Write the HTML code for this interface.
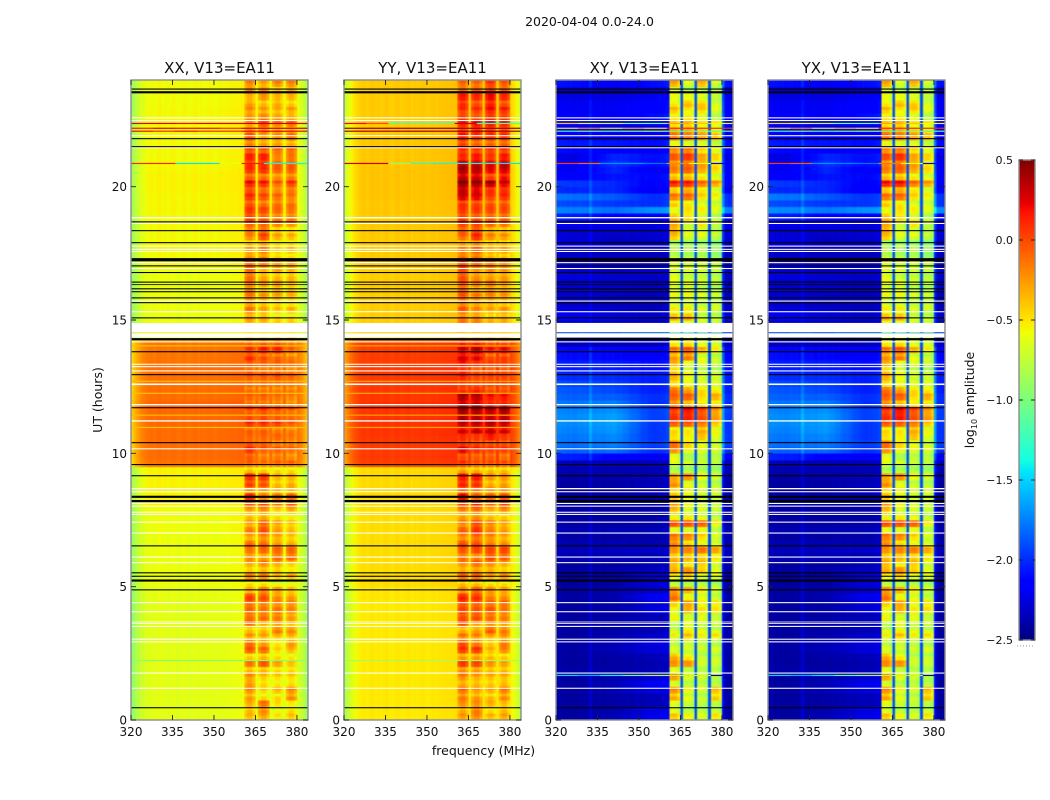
<!DOCTYPE html>
<html lang="en">
<head>
<meta charset="utf-8">
<title>2020-04-04 0.0-24.0</title>
<style>
html,body{margin:0;padding:0;background:#fff;}
svg{display:block;font-family:"DejaVu Sans","Liberation Sans",sans-serif;fill:#111;}
</style>
</head>
<body>
<svg id="figure" width="1050" height="800" viewBox="0 0 1050 800" xmlns="http://www.w3.org/2000/svg">
<rect x="0" y="0" width="1050" height="800" fill="#fff"/>
<text x="589.5" y="26" font-size="12.5" text-anchor="middle">2020-04-04 0.0-24.0</text>
<text x="483.5" y="755" font-size="12.5" text-anchor="middle">frequency (MHz)</text>
<text transform="translate(102,400) rotate(-90)" font-size="12.5" text-anchor="middle">UT (hours)</text>
<text transform="translate(974,400) rotate(-90)" font-size="12.5" text-anchor="middle">log<tspan font-size="8" dy="3">10</tspan><tspan dy="-3"> amplitude</tspan></text>
<g id="plots"></g>
<g id="colorbar"></g>
</svg>
<script>
const polarizations = ['XX', 'YY', 'XY', 'YX'];
const xTickLabels = [320, 335, 350, 365, 380];
const yTickLabels = [0, 5, 10, 15, 20];
const colorbarTicks = [0.5, 0, -0.5, -1, -1.5, -2, -2.5];
const bandStartChannels = [361, 366, 371, 376];
const gapChannels = [365, 370, 375];

/* flagged integrations, hours */
const whiteHours = [22.56,22.46,21.89,21.44,18.81,18.6,17.75,17.63,17.55,17.13,16.91,15.69,15.29,14.54,14.34,14.16,13.32,13.23,13.07,12.56,11.8,11.19,10.15,8.65,8.54,8.1,8.0,7.77,7.69,7.4,6.99,6.09,5.88,4.38,4.04,3.66,3.6,3.49,3.01,2.91,1.74,1.17];
const whiteSpans = [.04,.04,.04,.04,.05,.04,.04,.04,.04,.04,.04,.04,.04,.35,.16,.04,.04,.04,.04,.06,.05,.05,.04,.05,.04,.04,.04,.04,.04,.04,.04,.04,.04,.04,.04,.03,.03,.04,.04,.04,.04,.04];
const blackHours = [23.64,23.5,21.78,21.48,18.66,18.33,17.88,17.2,17.01,16.76,16.4,16.31,16.15,16.04,15.81,15.63,15.06,14.24,13.79,12.93,11.69,10.38,9.56,9.14,8.33,8.17,6.51,5.5,5.37,5.19,4.86,.44];
const blackSpans = [.04,.08,.04,.04,.04,.04,.04,.12,.04,.04,.04,.03,.04,.04,.04,.04,.04,.08,.04,.04,.04,.04,.04,.04,.08,.08,.04,.04,.04,.08,.04,.04];

/* single-integration interference rows: levels across 8 MHz segments, null = not visible */
const rfiHours = [20.87,22.37,22.19,22.08,1.67,2.23,14.03,12.7,12.25,11.43,10.97,14.5];
const rfiXX = [
 [.1,.1,-1.45,-1.45,-.6,.15,-1.4,-1.4],[.25,.25,.2,.25,.25,.3,.3,.25],[.15,.25,.2,.2,.1,.3,.3,.3],[.2,.1,.2,.1,.1,.2,.25,.2],
 null,[-.95,-.95,-.95,-.95,-.95,-.95,-.95,-.95],[-.38,-.38,-.38,-.38,-.38,-.38,-.38,-.38],[-.36,-.36,-.36,-.36,-.36,-.36,-.36,-.36],[-.38,-.38,-.38,-.38,-.38,-.38,-.38,-.38],[-.36,-.36,-.36,-.36,-.36,-.36,-.36,-.36],[-.38,-.38,-.38,-.38,-.38,-.38,-.38,-.38],[-.5,-.5,-.5,-.5,-.5,-.5,-.5,-.5]];
const rfiYY = [
 [.3,.3,-.9,-1.3,-1.4,-1.4,-1.4,-1.45],[.2,.0,-1.2,-1.2,-1.2,.3,-1.3,-1.2],[.42,.42,.42,.42,.42,.45,.45,.42],[.4,.4,.42,.42,.4,.42,.45,.4],
 null,[-.85,-.85,-.85,-.85,-.85,-.85,-.85,-.85],[-.3,-.3,-.3,-.3,-.3,-.3,-.3,-.3],[-.28,-.28,-.28,-.28,-.28,-.28,-.28,-.28],[-.3,-.3,-.3,-.3,-.3,-.3,-.3,-.3],[-.28,-.28,-.28,-.28,-.28,-.28,-.28,-.28],[-.3,-.3,-.3,-.3,-.3,-.3,-.3,-.3],[-.42,-.42,-.42,-.42,-.42,-.42,-.42,-.42]];
const rfiXY = [
 [.05,-.1,-1.7,-1.7,-1.8,-.2,-.6,-2.2],[-.4,-.6,-.7,-1,-1,-.3,-.4,-.6],[-.5,-.2,-.5,-.3,-.5,.1,.1,.1],[-1.2,-1,-1.1,-1,-.8,-1,-.9,-1.1],
 [-1.5,-1.6,-1.4,-1,-.8,-.8,-.8,-2.3],null,null,null,null,null,null,[-1.7,-1.6,-1.7,-1.6,-1.6,-1.6,-1.7,-1.8]];
const rfiYX = [
 [.05,-.05,-1.7,-1.75,-1.8,-.15,-.6,-2.2],[-.45,-.6,-.75,-1,-1,-.3,-.4,-.6],[-.45,-.2,-.5,-.35,-.5,.1,.1,.1],[-1.2,-1,-1.15,-1,-.85,-1,-.9,-1.1],
 [-1.5,-1.6,-1.45,-1.05,-.85,-.8,-.8,-2.3],null,null,null,null,null,null,[-1.75,-1.6,-1.7,-1.6,-1.6,-1.6,-1.7,-1.8]];

/* per-channel offsets 320..383 MHz */
const coChannelOffsets = [-.3,-.22,-.15,-.09,-.05,-.02,0,.01,-.01,.01,.02,0,.01,-.01,.01,.02,0,-.01,.01,.02,-.01,0,.01,.02,-.01,.01,0,.01,.02,.01,0,.01,.02,.01,.02,.02,.03,.03,.03,.04,.04,0,0,0,0,.02,0,0,0,0,.02,0,0,0,0,.02,0,0,0,0,-.02,-.07,-.15,-.24];
const crossChannelOffsets = [.02,.02,.01,.01,0,.01,-.01,0,.01,0,.01,-.01,.12,.01,0,.01,0,-.01,.01,0,.01,0,-.01,.01,0,.01,0,-.01,.01,.01,0,-.01,.01,0,.01,0,.01,.01,.02,.03,.06,0,0,0,0,0,0,0,0,0,0,0,0,0,0,0,0,0,0,0,.3,.02,0,0];
const coBandShape = [-.12,-.03,-.03,-.14];
const crossBandShape = [.08,.12,.1,-.02];
/* fine horizontal structure inside the sub-bands */
const bandRowRipple = [.08,-.1,.05,-.14,.1,-.06,.12,-.09,.03,-.12,.09,-.04,.14,-.11,.06,-.08,.02];

/* background level per 0.25 h row */
const xxBackground = [
 -.63,-.63,-.63,-.63,-.63,-.63,-.63,-.63,-.63,-.63,-.63,-.63,-.63,-.63,-.63,-.63,-.63,-.63,-.62,-.62,
 -.6,-.6,-.6,-.6,-.6,-.6,-.6,-.6,-.59,-.59,-.59,-.59,-.55,-.55,-.55,-.55,-.55,-.55,
 -.14,-.12,-.12,-.12,-.12,-.12,-.11,-.11,-.1,-.1,-.12,-.12,-.13,-.13,-.13,-.14,-.15,-.15,-.15,
 -.6,-.6,-.6,-.6,-.6,-.6,-.6,-.6,-.6,-.6,-.6,
 -.57,-.57,-.57,-.57,-.57,-.57,-.57,-.57,-.56,-.56,-.56,-.55,-.55,-.55,-.56,-.57,-.57,-.57,-.57,-.57,-.57,-.57,-.57,-.57,-.58,-.58,-.58,-.58];
const yyBackground = [
 -.52,-.52,-.52,-.52,-.52,-.52,-.52,-.52,-.52,-.52,-.52,-.52,-.52,-.52,-.52,-.52,-.52,-.52,-.51,-.51,
 -.48,-.48,-.48,-.48,-.48,-.48,-.48,-.48,-.48,-.48,-.48,-.48,-.47,-.47,-.47,-.47,-.47,-.47,
 .02,.04,.04,.04,.05,.06,.06,.06,.06,.06,.05,.05,.04,.04,.04,.03,.03,.02,.02,
 -.43,-.43,-.43,-.43,-.43,-.43,-.43,-.43,-.43,-.43,-.43,
 -.42,-.42,-.42,-.42,-.42,-.42,-.42,-.42,-.41,-.41,-.4,-.4,-.4,-.4,-.4,-.41,-.41,-.41,-.41,-.41,-.42,-.42,-.42,-.42,-.42,-.42,-.42,-.42];

/* cross-pol background: low / mid / high part of the band */
const xyBackground = [
 [-2.42,-2.36,-2.22],[-2.42,-2.38,-2.25],[-2.42,-2.4,-2.36],[-2.42,-2.4,-2.36],[-2.42,-2.36,-2.25],[-2.42,-2.36,-2.2],[-2.42,-2.38,-2.3],[-2.4,-2.4,-2.37],
 [-2.42,-2.41,-2.38],[-2.42,-2.4,-2.36],[-2.41,-2.36,-2.28],[-2.41,-2.36,-2.26],[-2.42,-2.38,-2.3],[-2.42,-2.4,-2.36],[-2.42,-2.41,-2.38],[-2.42,-2.4,-2.36],
 [-2.42,-2.39,-2.25],[-2.42,-2.4,-2.3],[-2.42,-2.38,-2.2],[-2.42,-2.4,-2.32],[-2.42,-2.41,-2.28],[-2.42,-2.4,-2.28],[-2.42,-2.4,-2.34],[-2.42,-2.41,-2.38],
 [-2.38,-2.36,-2.38],[-2.36,-2.34,-2.32],[-2.38,-2.36,-2.38],[-2.41,-2.41,-2.4],[-2.38,-2.36,-2.36],[-2.41,-2.41,-2.41],[-2.42,-2.42,-2.41],[-2.42,-2.42,-2.41],
 [-2.42,-2.41,-2.41],[-2.41,-2.38,-2.38],[-2.42,-2.4,-2.36],[-2.42,-2.4,-2.36],[-2.41,-2.38,-2.37],[-2.38,-2.38,-2.38],
 [-2.36,-2.36,-2.36],[-2.05,-2.15,-2.2],[-1.85,-1.8,-2.0],[-1.8,-1.75,-1.95],[-1.78,-1.72,-1.98],[-1.75,-1.68,-1.98],[-1.72,-1.65,-1.98],[-1.72,-1.65,-1.95],
 [-1.75,-1.7,-1.95],[-1.78,-1.75,-2.0],[-1.85,-1.85,-2.0],[-1.88,-1.92,-2.05],[-1.92,-1.95,-2.05],[-2.0,-2.0,-2.05],[-2.05,-2.05,-2.1],[-2.05,-2.05,-2.1],
 [-2.1,-2.12,-2.15],[-2.12,-2.12,-2.15],[-2.35,-2.35,-2.35],[-2.38,-2.38,-2.4],[-2.35,-2.35,-2.4],[-2.3,-2.33,-2.35],[-2.2,-2.25,-2.3],[-2.25,-2.3,-2.35],
 [-2.33,-2.35,-2.37],[-2.3,-2.33,-2.35],[-2.27,-2.3,-2.33],[-2.3,-2.3,-2.33],[-2.27,-2.3,-2.33],[-2.3,-2.33,-2.3],[-2.3,-2.35,-2.35],[-2.33,-2.35,-2.37],
 [-2.3,-2.35,-2.35],[-2.27,-2.35,-2.35],[-2.28,-2.33,-2.3],[-2.28,-2.28,-2.28],[-2.22,-2.22,-2.27],[-2.05,-2.15,-2.2],[-1.75,-1.8,-1.7],[-1.92,-1.97,-2.0],
 [-1.8,-1.87,-2.0],[-2.02,-2.02,-2.2],[-1.97,-2.02,-2.15],[-2.15,-2.07,-2.12],[-2.2,-2.02,-2.2],[-2.2,-1.97,-2.1],[-2.25,-2.02,-2.1],[-2.12,-2.2,-2.2],
 [-2.07,-2.07,-2.1],[-2.12,-2.2,-2.2],[-2.15,-2.2,-2.2],[-2.2,-2.25,-2.2],[-2.15,-2.2,-2.1],[-2.2,-2.2,-2.15],[-2.2,-2.2,-2.15],[-2.25,-2.25,-2.2],[-2.25,-2.3,-2.2],[-2.1,-2.2,-2.1]];
const yxBackground = [
 [-2.42,-2.36,-2.24],[-2.42,-2.38,-2.26],[-2.42,-2.4,-2.36],[-2.42,-2.4,-2.36],[-2.42,-2.36,-2.27],[-2.42,-2.36,-2.22],[-2.42,-2.38,-2.3],[-2.4,-2.4,-2.37],
 [-2.42,-2.41,-2.38],[-2.42,-2.4,-2.36],[-2.41,-2.36,-2.28],[-2.41,-2.36,-2.28],[-2.42,-2.38,-2.31],[-2.42,-2.4,-2.36],[-2.42,-2.41,-2.38],[-2.42,-2.4,-2.36],
 [-2.42,-2.39,-2.27],[-2.42,-2.4,-2.3],[-2.42,-2.38,-2.22],[-2.42,-2.4,-2.32],[-2.42,-2.41,-2.28],[-2.42,-2.4,-2.28],[-2.42,-2.4,-2.34],[-2.42,-2.41,-2.38],
 [-2.38,-2.36,-2.38],[-2.36,-2.34,-2.32],[-2.38,-2.36,-2.38],[-2.41,-2.41,-2.4],[-2.38,-2.36,-2.36],[-2.41,-2.41,-2.41],[-2.42,-2.42,-2.41],[-2.42,-2.42,-2.41],
 [-2.42,-2.41,-2.41],[-2.41,-2.38,-2.38],[-2.42,-2.4,-2.36],[-2.42,-2.4,-2.36],[-2.41,-2.38,-2.37],[-2.38,-2.38,-2.38],
 [-2.36,-2.36,-2.36],[-2.05,-2.15,-2.2],[-1.85,-1.82,-2.0],[-1.8,-1.77,-1.95],[-1.78,-1.72,-1.98],[-1.75,-1.68,-1.98],[-1.72,-1.66,-1.98],[-1.72,-1.66,-1.95],
 [-1.75,-1.7,-1.95],[-1.78,-1.75,-2.0],[-1.85,-1.85,-2.0],[-1.88,-1.92,-2.05],[-1.92,-1.95,-2.05],[-2.0,-2.0,-2.05],[-2.05,-2.05,-2.1],[-2.05,-2.05,-2.1],
 [-2.1,-2.12,-2.15],[-2.12,-2.12,-2.15],[-2.35,-2.35,-2.35],[-2.38,-2.38,-2.4],[-2.35,-2.35,-2.4],[-2.3,-2.33,-2.35],[-2.2,-2.25,-2.3],[-2.25,-2.3,-2.35],
 [-2.33,-2.35,-2.37],[-2.3,-2.33,-2.35],[-2.27,-2.3,-2.33],[-2.3,-2.3,-2.33],[-2.27,-2.3,-2.33],[-2.3,-2.33,-2.3],[-2.3,-2.35,-2.35],[-2.33,-2.35,-2.37],
 [-2.3,-2.35,-2.35],[-2.27,-2.35,-2.35],[-2.28,-2.33,-2.3],[-2.28,-2.28,-2.28],[-2.22,-2.22,-2.27],[-2.05,-2.15,-2.2],[-1.72,-1.78,-1.7],[-1.92,-1.97,-1.98],
 [-1.78,-1.87,-1.98],[-2.02,-2.02,-2.18],[-1.97,-2.02,-2.15],[-2.15,-2.07,-2.12],[-2.2,-2.02,-2.18],[-2.2,-1.97,-2.1],[-2.25,-2.02,-2.1],[-2.12,-2.2,-2.2],
 [-2.07,-2.07,-2.1],[-2.12,-2.2,-2.2],[-2.15,-2.2,-2.2],[-2.2,-2.25,-2.2],[-2.15,-2.2,-2.1],[-2.2,-2.2,-2.15],[-2.2,-2.2,-2.15],[-2.25,-2.25,-2.2],[-2.25,-2.3,-2.2],[-2.1,-2.2,-2.1]];
const crossGapLevel = -1.9;

/* the four active sub-bands, one row per 0.25 h from 0 h upward */
const xxBands = [
 [-.35,-.3,-.5,-.4],[-.3,-.15,-.5,-.4],[-.3,-.1,-.45,-.5],[-.2,-.4,-.4,-.15],
 [-.2,-.42,-.35,-.2],[-.2,-.4,-.45,-.4],[-.25,-.4,-.45,-.45],[-.3,-.3,-.4,-.4],
 [-.1,0,-.25,-.35],[-.35,-.3,-.4,-.45],[-.05,-.1,-.45,-.35],[-.05,-.2,-.45,-.2],
 [-.3,-.35,-.4,-.4],[-.3,-.3,-.1,-.15],[-.1,-.3,-.25,-.35],[-.05,-.05,-.1,-.2],
 [-.05,-.1,-.1,-.15],[-.1,-.15,-.2,-.2],[.1,.05,-.15,-.2],[-.3,-.15,-.25,-.35],
 [-.4,-.4,-.5,-.5],[-.2,-.2,-.4,-.35],[-.35,-.3,-.35,-.45],[-.3,-.2,-.3,-.4],
 [-.15,-.2,-.05,-.05],[-.1,-.05,-.05,-.05],[0,0,-.15,-.2],[-.3,-.2,-.3,-.4],
 [-.1,.05,-.2,-.3],[-.3,-.1,-.3,-.4],[-.3,-.25,-.4,-.45],[-.25,-.2,-.4,-.3],
 [0,.05,-.1,0],[.15,-.15,-.1,-.05],[-.2,-.25,-.35,-.35],[.1,.05,-.3,-.25],
 [.12,.1,-.3,-.3],[-.3,-.35,-.4,-.4],[-.1,-.15,-.12,-.12],[0,-.1,-.1,-.15],
 [.1,-.05,-.05,-.1],[.05,0,-.1,-.1],[-.05,-.05,-.05,-.1],[0,0,-.08,-.1],
 [.1,.1,.05,-.05],[.05,.05,0,-.05],[-.03,.02,-.05,-.1],[0,-.02,-.05,-.1],
 [-.05,-.05,-.1,-.15],[-.05,-.08,-.1,-.1],[-.05,-.05,-.08,-.1],[-.02,-.02,0,-.05],
 [0,-.05,-.05,-.1],[-.02,-.05,-.05,-.1],[.15,.05,-.02,-.1],[.05,.12,.1,-.1],
 [-.02,0,0,-.1],[-.3,-.3,-.3,-.3],[-.4,-.4,-.4,-.4],[-.3,-.35,-.4,-.4],
 [-.2,-.25,-.4,-.4],[-.15,-.3,-.4,-.35],[-.25,-.35,-.4,-.45],[-.2,-.3,-.35,-.4],
 [-.1,-.3,-.25,-.3],[-.15,-.25,-.25,-.35],[-.05,-.25,-.3,-.3],[-.05,-.3,-.25,-.3],
 [-.1,-.15,-.25,-.3],[-.15,-.15,-.35,-.4],[-.25,-.15,-.4,-.35],[-.3,-.25,-.4,-.4],
 [-.2,0,-.3,-.35],[-.1,-.05,-.35,-.4],[-.05,-.05,-.15,-.2],[.1,0,-.1,-.1],
 [.1,.05,-.05,-.1],[.05,-.05,-.05,-.05],[.1,0,-.1,-.15],[.05,-.05,-.15,-.1],
 [.15,.1,-.1,.02],[0,-.05,-.15,-.1],[.1,.1,-.05,-.05],[.15,.15,0,0],
 [.18,.18,-.15,-.1],[0,-.05,-.1,-.1],[-.1,-.2,-.2,-.25],[0,-.25,-.2,-.1],
 [-.1,-.1,-.2,-.2],[-.25,0,-.15,-.1],[-.15,-.1,-.2,-.25],[-.25,-.3,-.35,-.3],
 [-.2,-.3,-.25,-.35],[-.3,-.2,-.3,-.3],[-.1,-.1,-.3,-.2],[-.2,-.3,-.2,-.2]];
const yyBands = [
 [-.25,-.2,-.35,-.3],[-.25,-.1,-.4,-.3],[-.2,-.2,-.3,-.35],[-.1,-.2,-.3,-.15],
 [-.1,-.25,-.3,-.15],[-.25,-.3,-.35,-.3],[-.2,-.3,-.35,-.35],[-.15,-.2,-.3,-.3],
 [.1,.05,-.2,-.25],[-.2,-.2,-.3,-.35],[.05,.05,-.35,-.2],[.05,-.1,-.35,-.1],
 [-.2,-.25,-.35,-.3],[-.25,-.2,0,-.1],[0,-.25,-.2,-.25],[.05,.05,-.05,-.1],
 [.05,0,0,-.1],[0,-.05,-.1,-.1],[.2,.15,-.1,-.15],[-.2,-.05,-.2,-.25],
 [-.3,-.3,-.4,-.4],[-.1,-.1,-.3,-.25],[-.25,-.2,-.25,-.35],[-.2,-.1,-.2,-.3],
 [-.05,-.1,.05,0],[0,.05,.05,.05],[.1,.1,-.05,-.1],[-.2,-.1,-.2,-.3],
 [0,.15,-.1,-.2],[-.2,0,-.2,-.3],[-.2,-.15,-.3,-.35],[-.15,-.1,-.3,-.2],
 [.05,.15,-.05,.05],[.25,-.05,-.05,0],[-.1,-.15,-.25,-.25],[.2,.15,-.25,-.2],
 [.2,.2,-.2,-.2],[-.2,-.25,-.3,-.3],[.05,-.05,-.05,-.05],[.05,0,0,-.05],
 [.25,.1,.05,.05],[.15,.1,.05,.05],[.15,.1,.2,.1],[.35,.4,.4,.35],
 [.35,.35,.38,.33],[.45,.42,.38,.4],[.45,.42,.38,.42],[.42,.42,.25,.25],
 [.42,.38,.2,.2],[.15,.2,.05,.05],[.1,.05,.05,.05],[.15,.05,.05,.05],
 [.18,.05,.05,.05],[.2,.1,.05,.05],[.35,.3,.05,.1],[.28,.35,.15,.2],
 [.2,.2,.05,.05],[-.2,-.2,-.2,-.2],[-.2,-.2,-.3,-.3],[-.1,-.15,-.3,-.3],
 [-.1,-.15,-.3,-.25],[-.05,-.2,-.3,-.25],[-.15,-.25,-.3,-.35],[-.1,-.2,-.25,-.3],
 [0,-.2,-.15,-.2],[-.05,-.15,-.15,-.25],[.05,-.15,-.2,-.2],[.05,-.2,-.15,-.2],
 [0,-.05,-.15,-.2],[-.05,-.05,-.25,-.3],[-.15,-.05,-.3,-.25],[-.2,-.15,-.3,-.3],
 [-.1,.1,-.2,-.25],[0,.05,-.25,-.3],[.05,.05,-.05,-.1],[.1,.05,0,0],
 [.1,.1,.05,.05],[.15,.1,.05,.05],[.3,.25,.05,.1],[.38,.3,.15,.15],
 [.45,.4,.35,.25],[.4,.35,.1,.25],[.42,.38,.25,.3],[.42,.38,.32,.38],
 [.15,.2,.1,.2],[.1,.05,.05,.05],[.1,0,0,0],[.2,.1,.1,.1],
 [.15,.2,.15,.1],[.15,.2,.2,.15],[.1,.05,.15,.1],[.05,.05,.15,.1],
 [.15,.05,.2,.05],[.2,.15,.25,.15],[0,.05,.15,.05],[-.1,-.1,.05,-.05]];
const xyBands = [
 [-.55,-.7,-.8,-.65],[-.7,-.85,-.85,-.8],[-.75,-.85,-.9,-.9],[-.4,-.7,-.8,-.5],
 [-.35,-.7,-.8,-.5],[-.75,-.85,-.85,-.85],[-.4,-.75,-.8,-.9],[-.7,-.8,-.85,-.85],
 [-.35,-.35,-.8,-.8],[-.4,-.6,-.8,-.8],[-.8,-.85,-.85,-.8],[-.85,-.8,-.85,-.9],
 [-.75,-.6,-.75,-.7],[-.75,-.6,-.7,-.75],[-.9,-.75,-.85,-.85],[-.65,-.75,-.7,-.8],
 [-.7,-.45,-.6,-.6],[-.55,-.4,-.7,-.65],[-.2,-.65,-.7,-.8],[-.35,-.45,-.65,-.8],
 [-.8,-.85,-.85,-.9],[-.7,-.6,-.8,-.8],[-.4,-.3,-.5,-.7],[-.5,-.65,-.55,-.8],
 [-.45,-.45,-.5,-.6],[-.35,-.3,-.25,-.4],[-.25,-.5,-.6,-.7],[-.3,-.35,-.6,-.8],
 [-.7,-.75,-.7,-.85],[-.15,-.15,-.2,-.7],[-.65,-.6,-.7,-.8],[-.5,-.8,-.8,-.85],
 [-.35,-.65,-.75,-.8],[-.5,-.7,-.8,-.8],[-.6,-.7,-.8,-.8],[-.3,-.7,-.8,-.85],
 [-.4,-.35,-.7,-.8],[-.85,-.85,-.85,-.9],[-.8,-.85,-.9,-.95],[-.7,-.9,-.85,-.85],
 [-.35,-.7,-.75,-.8],[-.2,-.55,-.7,-.8],[-.6,-.65,-.5,-.75],[-.55,-.6,-.4,-.65],
 [-.2,-.2,-.3,-.55],[0,.05,-.1,-.35],[-.1,.05,-.15,-.4],[-.25,-.4,-.55,-.55],
 [-.2,-.2,-.6,-.45],[-.2,-.35,-.55,-.6],[-.6,-.7,-.75,-.75],[-.45,-.7,-.8,-.8],
 [-.5,-.7,-.8,-.85],[-.45,-.75,-.75,-.85],[-.35,-.25,-.7,-.8],[-.3,-.2,-.5,-.7],
 [-.6,-.55,-.7,-.75],[-.7,-.7,-.8,-.8],[-.7,-.8,-.8,-.85],[-.7,-.75,-.8,-.85],
 [-.4,-.4,-.75,-.8],[-.7,-.7,-.8,-.85],[-.75,-.75,-.85,-.8],[-.8,-.8,-.85,-.9],
 [-.7,-.7,-.8,-.85],[-.75,-.75,-.85,-.9],[-.7,-.8,-.8,-.85],[-.75,-.75,-.8,-.85],
 [-.75,-.8,-.8,-.85],[-.8,-.85,-.85,-.95],[-.9,-.95,-.9,-1],[-.9,-.9,-.95,-1],
 [-.55,-.8,-.8,-.9],[-.4,-.75,-.75,-.85],[-.4,-.8,-.6,-.85],[-.45,-.55,-.7,-.85],
 [-.7,-.6,-.65,-.75],[-.5,-.6,-.7,-.75],[-.3,-.25,-.6,-.7],[-.5,-.4,-.6,-.75],
 [-.05,-.05,-.3,-.45],[-.45,-.45,-.6,-.7],[-.3,-.2,-.45,-.6],[-.3,-.2,-.35,-.6],
 [-.15,-.05,-.4,-.55],[-.35,-.3,-.6,-.75],[-.65,-.7,-.7,-.8],[-.25,-.3,-.4,-.5],
 [-.3,-.3,-.45,-.6],[-.6,-.55,-.7,-.7],[-.6,-.6,-.7,-.85],[-.55,-.7,-.6,-.8],
 [-.6,-.45,-.5,-.75],[-.7,-.7,-.75,-.85],[-.7,-.85,-.8,-.85],[-.45,-.8,-.5,-.85]];
const yxBands = [
 [-.55,-.72,-.8,-.65],[-.72,-.85,-.85,-.78],[-.75,-.85,-.88,-.9],[-.38,-.7,-.8,-.48],
 [-.35,-.7,-.78,-.5],[-.75,-.85,-.85,-.85],[-.42,-.75,-.8,-.9],[-.7,-.8,-.85,-.85],
 [-.32,-.35,-.8,-.8],[-.4,-.6,-.8,-.8],[-.8,-.85,-.85,-.8],[-.85,-.8,-.85,-.9],
 [-.75,-.6,-.75,-.7],[-.75,-.62,-.7,-.75],[-.9,-.75,-.85,-.85],[-.65,-.75,-.7,-.8],
 [-.7,-.45,-.62,-.6],[-.55,-.42,-.7,-.65],[-.22,-.65,-.7,-.8],[-.35,-.45,-.65,-.8],
 [-.8,-.85,-.85,-.9],[-.7,-.6,-.8,-.8],[-.4,-.3,-.5,-.7],[-.5,-.65,-.55,-.8],
 [-.45,-.45,-.5,-.6],[-.35,-.3,-.28,-.42],[-.25,-.5,-.6,-.7],[-.3,-.35,-.6,-.8],
 [-.7,-.75,-.7,-.85],[-.15,-.15,-.2,-.7],[-.65,-.6,-.7,-.8],[-.5,-.8,-.8,-.85],
 [-.35,-.65,-.75,-.8],[-.5,-.7,-.8,-.8],[-.6,-.7,-.8,-.8],[-.3,-.7,-.8,-.85],
 [-.4,-.35,-.7,-.8],[-.85,-.85,-.85,-.9],[-.8,-.85,-.9,-.95],[-.7,-.9,-.85,-.85],
 [-.35,-.7,-.75,-.8],[-.2,-.55,-.7,-.8],[-.6,-.65,-.5,-.75],[-.55,-.6,-.4,-.65],
 [-.2,-.2,-.3,-.55],[0,.08,-.1,-.35],[-.1,.05,-.15,-.4],[-.25,-.4,-.55,-.55],
 [-.2,-.2,-.6,-.45],[-.2,-.35,-.55,-.6],[-.6,-.7,-.75,-.75],[-.45,-.7,-.8,-.8],
 [-.5,-.7,-.8,-.85],[-.45,-.75,-.75,-.85],[-.32,-.25,-.7,-.8],[-.3,-.2,-.5,-.7],
 [-.6,-.55,-.7,-.75],[-.7,-.7,-.8,-.8],[-.7,-.8,-.8,-.85],[-.7,-.75,-.8,-.85],
 [-.4,-.4,-.75,-.8],[-.7,-.7,-.8,-.85],[-.75,-.75,-.85,-.8],[-.8,-.8,-.85,-.9],
 [-.7,-.7,-.8,-.85],[-.75,-.75,-.85,-.9],[-.7,-.8,-.8,-.85],[-.75,-.75,-.8,-.85],
 [-.75,-.8,-.8,-.85],[-.8,-.85,-.85,-.95],[-.9,-.95,-.9,-1],[-.9,-.9,-.95,-1],
 [-.55,-.8,-.8,-.9],[-.4,-.75,-.75,-.85],[-.4,-.8,-.6,-.85],[-.45,-.55,-.7,-.85],
 [-.7,-.6,-.65,-.75],[-.5,-.6,-.7,-.75],[-.28,-.25,-.6,-.7],[-.5,-.4,-.6,-.75],
 [-.02,0,-.3,-.45],[-.45,-.45,-.6,-.7],[-.3,-.2,-.45,-.6],[-.3,-.18,-.35,-.6],
 [-.12,-.02,-.4,-.55],[-.35,-.3,-.6,-.75],[-.65,-.7,-.7,-.8],[-.25,-.3,-.4,-.5],
 [-.3,-.3,-.45,-.6],[-.6,-.55,-.7,-.7],[-.6,-.6,-.7,-.85],[-.55,-.7,-.6,-.8],
 [-.6,-.45,-.5,-.75],[-.7,-.7,-.75,-.85],[-.7,-.85,-.8,-.85],[-.45,-.8,-.5,-.85]];

const seriesByPol = {
  XX: {bg: xxBackground, bands: xxBands, offsets: coChannelOffsets, shape: coBandShape, rfi: rfiXX, gap: null},
  YY: {bg: yyBackground, bands: yyBands, offsets: coChannelOffsets, shape: coBandShape, rfi: rfiYY, gap: null},
  XY: {bg: xyBackground, bands: xyBands, offsets: crossChannelOffsets, shape: crossBandShape, rfi: rfiXY, gap: crossGapLevel},
  YX: {bg: yxBackground, bands: yxBands, offsets: crossChannelOffsets, shape: crossBandShape, rfi: rfiYX, gap: crossGapLevel}
};

/* layout */
const NS = 'http://www.w3.org/2000/svg';
const PLOT_TOP = 80, PLOT_BOTTOM = 720, PLOT_W = 177;
const PLOT_LEFT = {XX: 131, YY: 344, XY: 556, YX: 768};
const FREQ_MIN = 320, FREQ_MAX = 384, HOUR_MAX = 24, ROW_HOURS = 0.25;
const CB_X = 1019, CB_W = 16, CB_TOP = 160, CB_BOTTOM = 640, V_MIN = -2.5, V_MAX = 0.5;

function xScale(pol, mhz) { return PLOT_LEFT[pol] + (mhz - FREQ_MIN) * PLOT_W / (FREQ_MAX - FREQ_MIN); }
function yScale(hour) { return PLOT_BOTTOM - hour * (PLOT_BOTTOM - PLOT_TOP) / HOUR_MAX; }
function cbScale(v) { return CB_BOTTOM - (v - V_MIN) * (CB_BOTTOM - CB_TOP) / (V_MAX - V_MIN); }

function ramp(t, pts) {
  for (let i = 1; i < pts.length; i++) {
    if (t <= pts[i][0]) {
      const a = pts[i - 1], b = pts[i];
      return a[1] + (b[1] - a[1]) * (t - a[0]) / (b[0] - a[0]);
    }
  }
  return pts[pts.length - 1][1];
}
function jet(v) {
  const t = Math.max(0, Math.min(1, (v - V_MIN) / (V_MAX - V_MIN)));
  const r = ramp(t, [[0,0],[.35,0],[.66,1],[.89,1],[1,.5]]);
  const g = ramp(t, [[0,0],[.125,0],[.375,1],[.64,1],[.91,0],[1,0]]);
  const b = ramp(t, [[0,.5],[.11,1],[.34,1],[.65,0],[1,0]]);
  return 'rgb(' + Math.round(r * 255) + ',' + Math.round(g * 255) + ',' + Math.round(b * 255) + ')';
}
function make(parent, tag, attrs, text) {
  const el = document.createElementNS(NS, tag);
  for (const k in attrs) el.setAttribute(k, attrs[k]);
  if (text !== undefined) el.textContent = text;
  parent.appendChild(el);
  return el;
}
function backgroundLevel(row, ch) {
  if (!Array.isArray(row)) return row;
  if (ch >= 380) return Math.min(row[0], row[2]);
  if (ch <= 327) return row[0];
  if (ch < 341) return row[0] + (row[1] - row[0]) * (ch - 327) / 14;
  if (ch < 354) return row[1] + (row[2] - row[1]) * (ch - 341) / 13;
  return row[2];
}
function bandIndex(ch) {
  for (let b = 0; b < bandStartChannels.length; b++) {
    const k = ch - bandStartChannels[b];
    if (k >= 0 && k < 4) return b;
  }
  return -1;
}
function cellValue(s, r, ch) {
  const b = bandIndex(ch);
  if (b >= 0) return s.bands[r][b] + s.shape[ch - bandStartChannels[b]];
  if (s.gap !== null && gapChannels.includes(ch)) return s.gap;
  return backgroundLevel(s.bg[r], ch) + s.offsets[ch - FREQ_MIN];
}

const plots = document.getElementById('plots');
polarizations.forEach(function (pol) {
  const s = seriesByPol[pol];
  const left = PLOT_LEFT[pol], right = left + PLOT_W;
  const panel = make(plots, 'g', {});
  
  

  const clipId = 'clip-' + pol;
  const defs = make(panel, 'defs', {});
  const clip = make(defs, 'clipPath', {id: clipId});
  make(clip, 'rect', {x: left, y: PLOT_TOP, width: PLOT_W, height: PLOT_BOTTOM - PLOT_TOP});

  const clipped = make(panel, 'g', {'clip-path': 'url(#' + clipId + ')'});
  const heat = make(clipped, 'g', {'shape-rendering': 'crispEdges', style: 'filter:blur(0.45px)'});
  
  
  s.bands.forEach(function (_, r) {
    const yTop = yScale((r + 1) * ROW_HOURS), yBot = yScale(r * ROW_HOURS);
    for (let ch = FREQ_MIN; ch < FREQ_MAX; ch++) {
      const x0 = xScale(pol, ch), x1 = xScale(pol, ch + 1);
      const value = cellValue(s, r, ch);
      const cell = make(heat, 'rect', {x: x0.toFixed(2), y: yTop.toFixed(2), width: (x1 - x0 + .4).toFixed(2), height: (yBot - yTop + .4).toFixed(2), fill: jet(value)});
      
      
      if (bandIndex(ch) >= 0) {
        const ripple = bandRowRipple[r % bandRowRipple.length];
        const fine = make(heat, 'rect', {x: x0.toFixed(2), y: yTop.toFixed(2), width: (x1 - x0 + .4).toFixed(2), height: ((yBot - yTop) / 2).toFixed(2), fill: jet(value + ripple)});
        
        
      }
    }
  });

  rfiHours.forEach(function (h, i) {
    const levels = s.rfi[i];
    if (!levels) return;
    levels.forEach(function (v, k) {
      const x0 = xScale(pol, FREQ_MIN + k * 8), x1 = xScale(pol, FREQ_MIN + (k + 1) * 8);
      const seg = make(clipped, 'rect', {x: x0.toFixed(2), y: (yScale(h) - .6).toFixed(2), width: (x1 - x0 + .3).toFixed(2), height: 1.2, fill: jet(v)});
      
      
    });
  });

  whiteHours.forEach(function (h, i) {
    const y = yScale(h + whiteSpans[i]);
    const row = make(clipped, 'rect', {x: left, y: y.toFixed(2), width: PLOT_W, height: (yScale(h) - y).toFixed(2), fill: '#fff'});
    
    
  });
  blackHours.forEach(function (h, i) {
    const y = yScale(h + blackSpans[i]);
    const row = make(clipped, 'rect', {x: left, y: y.toFixed(2), width: PLOT_W, height: (yScale(h) - y).toFixed(2), fill: '#000'});
    
    
  });

  const frame = make(panel, 'rect', {x: left, y: PLOT_TOP, width: PLOT_W, height: PLOT_BOTTOM - PLOT_TOP, fill: 'none', stroke: '#8c8c8c', 'stroke-width': 1.4});
  
  

  const title = make(panel, 'text', {x: left + PLOT_W / 2, y: 73, 'font-size': 15, 'text-anchor': 'middle'}, pol + ', V13=EA11');
  
  

  xTickLabels.forEach(function (t) {
    const x = xScale(pol, t);
    const d = 'M' + x + ' ' + PLOT_BOTTOM + 'v-5M' + x + ' ' + PLOT_TOP + 'v5';
    const tick = make(panel, 'path', {d: d, stroke: '#222', 'stroke-width': .9, fill: 'none'});
    
    
    const label = make(panel, 'text', {x: x, y: 736, 'font-size': 12, 'text-anchor': 'middle'}, String(t));
    
    
  });
  yTickLabels.forEach(function (t) {
    const y = yScale(t);
    const d = 'M' + left + ' ' + y + 'h5M' + right + ' ' + y + 'h-5';
    const tick = make(panel, 'path', {d: d, stroke: '#222', 'stroke-width': .9, fill: 'none'});
    
    
    const label = make(panel, 'text', {x: left - 4, y: y + 4.5, 'font-size': 12, 'text-anchor': 'end'}, String(t));
    
    
  });
});

const cb = document.getElementById('colorbar');
const cbSteps = 256;
for (let i = 0; i < cbSteps; i++) {
  const y0 = CB_TOP + i * (CB_BOTTOM - CB_TOP) / cbSteps;
  const v = V_MAX - (i + .5) * (V_MAX - V_MIN) / cbSteps;
  const swatch = make(cb, 'rect', {x: CB_X, y: y0.toFixed(2), width: CB_W, height: ((CB_BOTTOM - CB_TOP) / cbSteps + .4).toFixed(2), fill: jet(v), 'shape-rendering': 'crispEdges'});
  
  
}
const cbFrame = make(cb, 'rect', {x: CB_X, y: CB_TOP, width: CB_W, height: CB_BOTTOM - CB_TOP, fill: 'none', stroke: '#8c8c8c', 'stroke-width': 1.4});


colorbarTicks.forEach(function (t) {
  const y = cbScale(t);
  const tick = make(cb, 'path', {d: 'M' + CB_X + ' ' + y + 'h4M' + (CB_X + CB_W) + ' ' + y + 'h-4', stroke: '#222', 'stroke-width': .9, fill: 'none'});
  
  
  const text = (t < 0 ? '\u2212' : '') + Math.abs(t).toFixed(1);
  const label = make(cb, 'text', {x: 1013, y: y + 4, 'font-size': 11, 'text-anchor': 'end'}, text);
  
  
});
const cbDots = make(cb, 'line', {x1: 1017, y1: 646, x2: 1035, y2: 646, stroke: '#999', 'stroke-width': 1, 'stroke-dasharray': '1 2'});


</script>
</body>
</html>
